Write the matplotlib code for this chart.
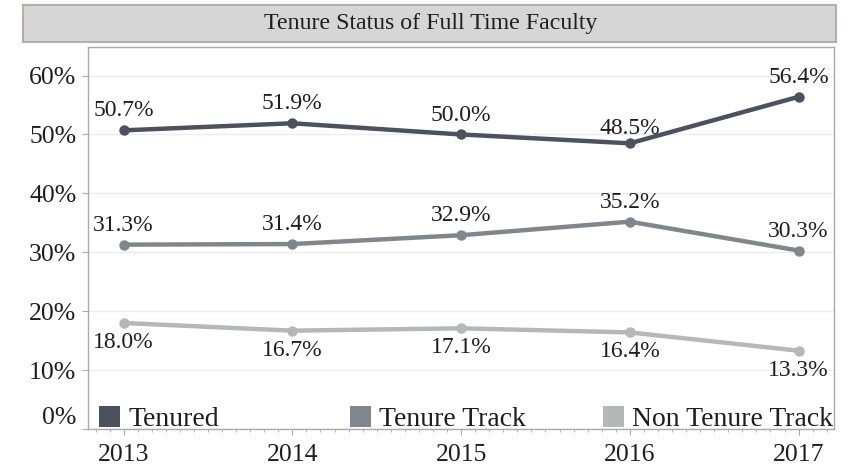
import numpy as np
import matplotlib
matplotlib.use("Agg")
import matplotlib.pyplot as plt
from matplotlib.patches import Rectangle, Patch
from matplotlib.ticker import MultipleLocator, FuncFormatter

years = [2013, 2014, 2015, 2016, 2017]
tenured = [50.7, 51.9, 50.0, 48.5, 56.4]
tenure_track = [31.3, 31.4, 32.9, 35.2, 30.3]
non_tenure = [18.0, 16.7, 17.1, 16.4, 13.3]
names = ["Tenured", "Tenure Track", "Non Tenure Track"]
title = "Tenure Status of Full Time Faculty"

plt.rcParams['font.family'] = ['Liberation Serif', 'DejaVu Serif']
txt = "#1e1e1e"
kolori = ["#4b525e", "#80878c", "#b5b7b8"]
grida = "#aaaaaa"

fig = plt.figure(figsize=(8.48, 4.66), dpi=100)

# naslovna skatla
fig.patches.append(Rectangle((0.0268, 0.9092), 0.9587, 0.0794, transform=fig.transFigure,
                             facecolor="#d6d6d6", edgecolor="#b3b0a5", linewidth=1.5))
fig.text(0.508, 0.949, title, ha="center", va="center", fontsize=17.2, color=txt)

ax = fig.add_axes([0.104, 0.0793, 0.8795, 0.8205])
serije = [tenured, tenure_track, non_tenure]
zamiki = [14, 14, -14]
for i in range(3):
    ax.plot(years, serije[i], color=kolori[i], linewidth=3.2, marker="o", markersize=6.5,
            solid_capstyle="round", zorder=3)
    for x, y in zip(years, serije[i]):
        dy = zamiki[i]
        if i == 0 and y == 48.5:
            dy = 11
        ax.annotate("%.1f%%" % y, (x, y), xytext=(0, dy), textcoords="offset points",
                    ha="center", va="center", fontsize=17, color=txt)

ax.set_xlim(2012.79, 2017.21)
ax.set_ylim(0, 64.9)
ax.set_xticks(years)
ax.set_xticklabels([str(l) for l in years])
ax.xaxis.set_minor_locator(MultipleLocator(1 / 12))
ax.set_yticks([0, 10, 20, 30, 40, 50, 60])
ax.yaxis.set_major_formatter(FuncFormatter(lambda v, p: "%d%%" % v))
ax.grid(axis="y", color="#ececec", linewidth=1)
ax.set_axisbelow(True)
for s in ax.spines.values():
    s.set_color(grida)
    s.set_linewidth(1)
ax.tick_params(axis="x", which="major", length=4, color=grida, labelsize=18.5, labelcolor=txt, pad=7)
ax.tick_params(axis="x", which="minor", length=2.2, color=grida)
ax.tick_params(axis="y", length=4.5, color=grida, labelsize=18.5, labelcolor=txt, pad=4)
ax.yaxis.get_major_ticks()[0].label1.set_verticalalignment("bottom")

# tri legende, vsaka na svoji tretjini
zacetki = [0.0143, 0.351, 0.690]
for i in range(3):
    leg = ax.legend([Patch(facecolor=kolori[i], edgecolor="none")], [names[i]],
                    loc="lower left", bbox_to_anchor=(zacetki[i], -0.008), frameon=False,
                    fontsize=20, handlelength=0.75, handleheight=0.75, handletextpad=0.3,
                    borderaxespad=0.0, borderpad=0.0, labelcolor=txt)
    if i < 2:
        ax.add_artist(leg)

fig.savefig("out.png", dpi=100)
